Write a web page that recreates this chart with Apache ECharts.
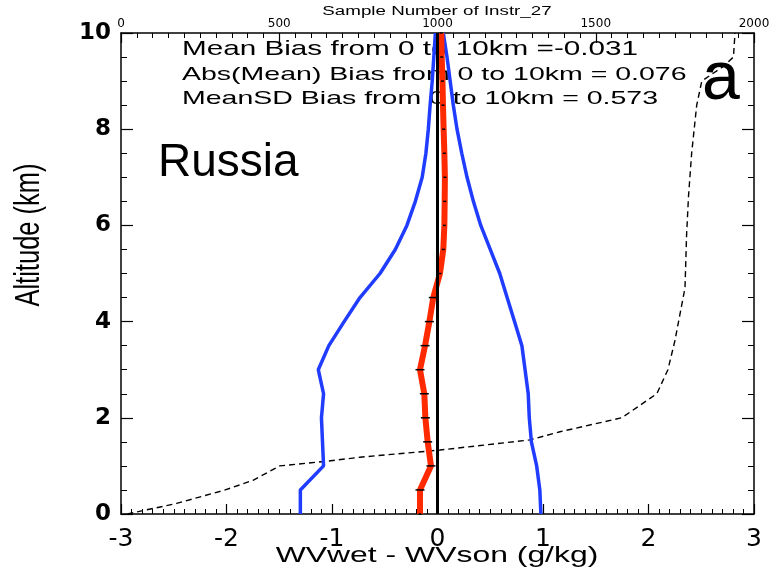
<!DOCTYPE html>
<html>
<head>
<meta charset="utf-8">
<script src="https://cdn.jsdelivr.net/npm/echarts@6/dist/echarts.min.js"></script>
<style>html,body{margin:0;padding:0;background:#fff}#c{width:776px;height:570px}</style>
</head>
<body>
<div id="c"></div>
<script>
// ---- data ----
const altitude   = [0,0.5,1,1.5,2,2.5,3,3.5,4,4.5,5,5.5,6,6.5,7,7.5,8,8.5,9,9.5,10];
const meanBias   = [-0.166,-0.166,-0.062,-0.093,-0.115,-0.125,-0.166,-0.118,-0.077,-0.040,0.023,0.055,0.065,0.068,0.070,0.065,0.058,0.052,0.047,0.040,0.035];
const lowerBound = [-1.30,-1.30,-1.08,-1.09,-1.10,-1.08,-1.13,-1.03,-0.885,-0.735,-0.545,-0.40,-0.29,-0.21,-0.145,-0.11,-0.087,-0.07,-0.05,-0.035,-0.02];
const upperBound = [0.98,0.97,0.94,0.89,0.87,0.86,0.83,0.80,0.73,0.66,0.59,0.50,0.41,0.34,0.28,0.23,0.185,0.15,0.12,0.09,0.055];
const sampleAlt   = [0,0.22,0.5,0.7,1.0,1.09,1.18,1.33,1.54,1.71,2.0,2.5,3.0,3.6,4.7,5.8,6.6,7.5,8.5,9.0,9.3,9.5,10];
const sampleCount = [20,176,329,417,502,640,755,1008,1292,1387,1582,1693,1728,1750,1782,1787,1793,1803,1819,1835,1902,1935,1940];
const zeroRef = [0, 0];
const zeroAlt = [0, 10];
const statLines = [
  'Mean Bias from 0 to 10km =-0.031',
  'Abs(Mean) Bias from 0 to 10km = 0.076',
  'MeanSD Bias from 0 to 10km = 0.573'
];
const regionName = 'Russia';
const panelTag = 'a';
const xTitle = 'WVwet - WVson (g/kg)';
const yTitle = 'Altitude (km)';
const topTitle = 'Sample Number of Instr_27';

const pairs = (xs, ys) => xs.map((v, i) => [v, ys[i]]);
const BLUE = '#1f3cff', RED = '#ff2a00';
const AX = {onZero: false, lineStyle: {color: '#000', width: 1.5}};
const TICK = (len) => ({inside: true, length: len, lineStyle: {color: '#000', width: 1.2}});
// helper for axes carrying only the short (minor) inside ticks
const minorAxis = (pos, min, max, step, len) => ({
  type: 'value', position: pos, min: min, max: max, interval: step,
  axisLine: {show: false, onZero: false}, splitLine: {show: false}, axisLabel: {show: false},
  axisTick: {inside: true, length: len, lineStyle: {color: '#000', width: 1}}
});

const chart = echarts.init(document.getElementById('c'), null, {renderer: 'canvas'});
chart.setOption({
  animation: false,
  backgroundColor: '#fff',
  grid: {left: 121, right: 22, top: 33, bottom: 56, containLabel: false},
  xAxis: [{
    type: 'value', position: 'bottom', min: -3, max: 3, interval: 1,
    axisLine: AX, splitLine: {show: false}, axisTick: TICK(10),
    axisLabel: {color: '#000', fontFamily: 'DejaVu Sans', fontSize: 25, margin: 13}
  }, {
    type: 'value', position: 'top', min: 0, max: 2000, interval: 500,
    axisLine: AX, splitLine: {show: false}, axisTick: TICK(10),
    axisLabel: {color: '#000', fontFamily: 'DejaVu Sans', fontSize: 12, margin: 3, formatter: (v) => String(v)}
  },
    minorAxis('bottom', -3, 3, 0.1, 5),
    minorAxis('top', 0, 2000, 50, 5)
  ],
  yAxis: [{
    type: 'value', position: 'left', min: 0, max: 10, interval: 2,
    axisLine: AX, splitLine: {show: false}, axisTick: TICK(12),
    axisLabel: {color: '#000', fontFamily: 'DejaVu Sans', fontWeight: 'bold', fontSize: 23, margin: 10}
  }, {
    type: 'value', position: 'right', min: 0, max: 10, interval: 2,
    axisLine: AX, splitLine: {show: false}, axisTick: TICK(12),
    axisLabel: {show: false}
  },
    minorAxis('left', 0, 10, 0.5, 6),
    minorAxis('right', 0, 10, 0.5, 6)
  ],
  series: [{
    type: 'line', xAxisIndex: 1, yAxisIndex: 0, symbol: 'none',
    data: pairs(sampleCount, sampleAlt),
    lineStyle: {color: '#000', width: 1.4, type: [6, 4]}
  }, {
    type: 'line', xAxisIndex: 0, yAxisIndex: 0, symbol: 'none',
    data: pairs(lowerBound, altitude),
    lineStyle: {color: BLUE, width: 3.5}
  }, {
    type: 'line', xAxisIndex: 0, yAxisIndex: 0, symbol: 'none',
    data: pairs(upperBound, altitude),
    lineStyle: {color: BLUE, width: 3.5}
  }, {
    type: 'line', xAxisIndex: 0, yAxisIndex: 0,
    data: pairs(meanBias, altitude),
    lineStyle: {color: RED, width: 6},
    symbol: 'rect',
    symbolSize: (v) => v[1] > 0.2 && v[1] < 5 ? [9, 1.5] : [3, 1.5],
    itemStyle: {color: '#000'}
  }, {
    type: 'line', xAxisIndex: 0, yAxisIndex: 0, symbol: 'none',
    data: pairs(zeroRef, zeroAlt),
    lineStyle: {color: '#000', width: 3}
  }],
  graphic: [
    {type: 'text', x: 437, y: 12, scaleX: 1.5,
     style: {text: topTitle, font: '12.5px "Liberation Sans"', fill: '#000', align: 'center', verticalAlign: 'middle'}},
    {type: 'text', x: 437, y: 556, scaleX: 1.45,
     style: {text: xTitle, font: '22px "Liberation Sans"', fill: '#000', align: 'center', verticalAlign: 'middle'}},
    {type: 'text', x: 29, y: 235, rotation: Math.PI / 2, scaleY: 1.4,
     style: {text: yTitle, font: '25.5px "Liberation Sans"', fill: '#000', align: 'center', verticalAlign: 'middle'}},
    {type: 'text', x: 182, y: 50, scaleX: 1.5,
     style: {text: statLines[0], font: '19.8px "Liberation Sans"', fill: '#000', align: 'left', verticalAlign: 'middle'}},
    {type: 'text', x: 182, y: 75, scaleX: 1.5,
     style: {text: statLines[1], font: '19px "Liberation Sans"', fill: '#000', align: 'left', verticalAlign: 'middle'}},
    {type: 'text', x: 182, y: 99, scaleX: 1.5,
     style: {text: statLines[2], font: '19px "Liberation Sans"', fill: '#000', align: 'left', verticalAlign: 'middle'}},
    {type: 'text', x: 158, y: 163,
     style: {text: regionName, font: '46px "Liberation Sans"', fill: '#000', align: 'left', verticalAlign: 'middle'}},
    {type: 'text', x: 702, y: 80,
     style: {text: panelTag, font: '68px "Liberation Sans Narrow", "Liberation Sans"', fill: '#000', align: 'left', verticalAlign: 'middle'}}
  ]
});
</script>
</body>
</html>
